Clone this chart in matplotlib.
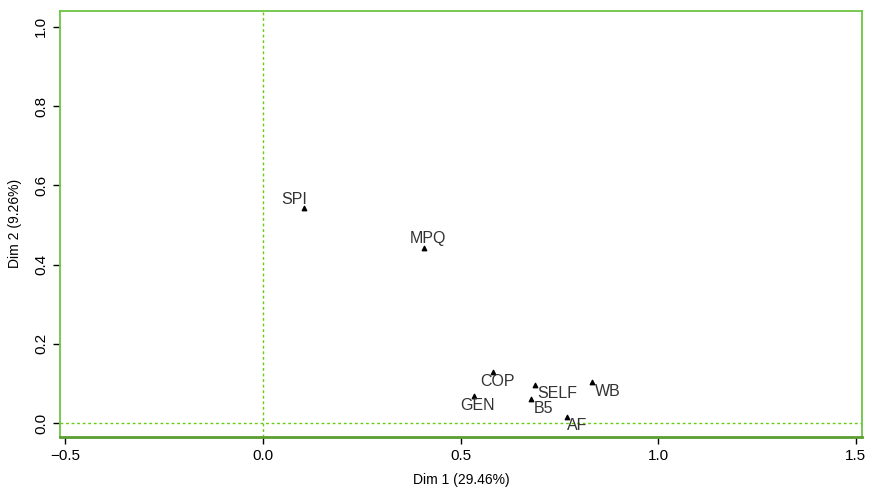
import matplotlib.pyplot as plt

labels = ['SPI', 'MPQ', 'COP', 'GEN', 'SELF', 'B5', 'WB', 'AF']
dim1 = [0.104, 0.407, 0.583, 0.533, 0.687, 0.679, 0.833, 0.770]
dim2 = [0.543, 0.442, 0.129, 0.068, 0.096, 0.061, 0.104, 0.015]
xticks = [-0.5, 0.0, 0.5, 1.0, 1.5]
yticks = [0.0, 0.2, 0.4, 0.6, 0.8, 1.0]

# label offsets in points (dx, dy)
offsets = {'SPI': (-7, 6), 'MPQ': (3, 7), 'COP': (3, -7), 'GEN': (3, -7),
           'SELF': (16, -6), 'B5': (9, -6.5), 'WB': (11, -7), 'AF': (7, -6)}

plt.rcParams['font.family'] = ['Liberation Sans', 'DejaVu Sans']

fig = plt.figure(figsize=(8.74, 4.9), dpi=100)
ax = fig.add_axes([0.0686, 0.108, 0.9174, 0.870])

green = '#6cc644'
ax.axhline(0, color='#66cc11', lw=1, ls=(0, (2, 2)))
ax.axvline(0, color='#66cc11', lw=1, ls=(0, (2, 2)))

ax.scatter(dim1, dim2, marker='^', s=10, color='black', zorder=3)
for lab, x, y in zip(labels, dim1, dim2):
    dx, dy = offsets[lab]
    ax.annotate(lab, (x, y), xytext=(dx, dy), textcoords='offset points',
                ha='center', va='center', fontsize=11.5, color='#333333')

ax.set_xlim(-0.514, 1.515)
ax.set_ylim(-0.035, 1.04)
ax.set_xticks(xticks)
ax.set_yticks(yticks)
ax.set_xticklabels([f'{t:.1f}'.replace('-', '\u2212') for t in xticks])
ax.set_yticklabels([f'{t:.1f}' for t in yticks], rotation=90, va='center')
ax.tick_params(direction='out', length=5, width=1, labelsize=11, colors='black')
for s in ax.spines.values():
    s.set_color(green)
    s.set_linewidth(1.3)
ax.spines['bottom'].set_color('#5a9e2f')
ax.spines['bottom'].set_linewidth(2)

ax.set_xlabel('Dim 1 (29.46%)', fontsize=10, labelpad=7)
ax.set_ylabel('Dim 2 (9.26%)', fontsize=10, labelpad=9)

fig.savefig('out.png', dpi=100)
